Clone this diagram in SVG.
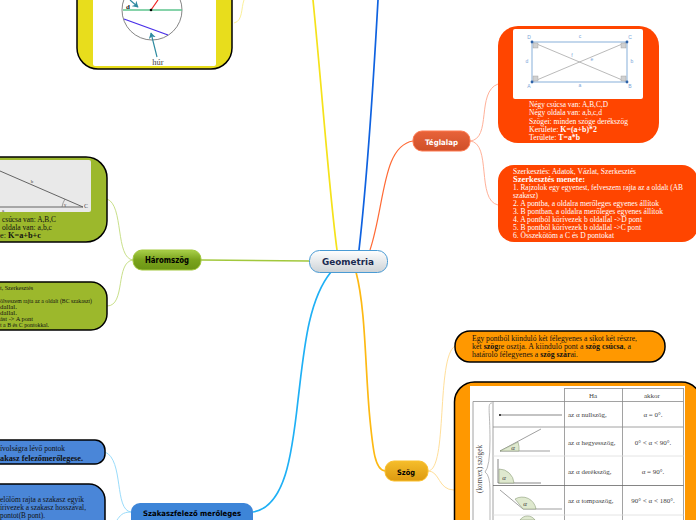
<svg xmlns="http://www.w3.org/2000/svg" width="696" height="520" viewBox="0 0 696 520">
<style>
.s{font-family:"Liberation Serif","Times New Roman",serif;font-size:8.600px;fill:#111}
.w{fill:#fff}
.xs{font-size:6px}
.b{font-weight:bold}
.n{font-family:"DejaVu Sans",Verdana,sans-serif;font-weight:bold;font-size:9px}
.c{stroke:#000;stroke-width:1.5}
.t{font-family:"Liberation Serif",serif;font-size:7px;fill:#444;text-anchor:middle}
.gl{stroke:#8a8a8a;stroke-width:.8;fill:none}
.lb{font-family:"Liberation Sans",sans-serif;font-size:5px;fill:#7aa5d8;text-anchor:middle}
.ang{fill:#dfe9cf;stroke:#7c8f6a;stroke-width:.5}
path.l{fill:none}
</style>
<defs>
<linearGradient id="gc" x1="0" y1="0" x2="0" y2="1"><stop offset="0" stop-color="#fff"/><stop offset="1" stop-color="#cdd2d6"/></linearGradient>
<linearGradient id="gg" x1="0" y1="0" x2="0" y2="1"><stop offset="0" stop-color="#a9d04a"/><stop offset=".5" stop-color="#7aa31c"/><stop offset="1" stop-color="#6b9414"/></linearGradient>
<linearGradient id="gt" x1="0" y1="0" x2="0" y2="1"><stop offset="0" stop-color="#e8633a"/><stop offset="1" stop-color="#cf4f28"/></linearGradient>
<linearGradient id="gs" x1="0" y1="0" x2="0" y2="1"><stop offset="0" stop-color="#f5bd2b"/><stop offset="1" stop-color="#dd9a10"/></linearGradient>
<marker id="ah" markerWidth="6" markerHeight="6" refX="4.500" refY="3" orient="auto"><path d="M0 0L5 3L0 6L1.500 3Z" fill="#2e8aa0"/></marker>
</defs>

<g id="connectors">
<path class="l" stroke="#f5e21a" stroke-width="1.7" d="M337 250C329 190 322 90 313 0"/>
<path class="l" stroke="#0f62e0" stroke-width="1.7" d="M359 250C368 170 373 90 378 0"/>
<path class="l" stroke="#ff6a35" stroke-width="1.2" d="M370 250C385 205 382 146 413 141"/>
<path class="l" stroke="#1fb0f5" stroke-width="1.700" d="M331 272C308 300 304 350 298 400C292 455 285 507 253 512"/>
<path class="l" stroke="#fdb913" stroke-width="1.700" d="M356 272C366 310 365 370 370 420C373 450 375 470 385 471"/>
<path class="l" stroke="#a2c83c" stroke-width="1.5" d="M201 260L309 261"/>
<path class="l" stroke="#ffdf9a" d="M428 471C448 470 436 358 455 346"/>
<path class="l" stroke="#ffdf9a" d="M428 471C440 471 438 490 454 490"/>
<path class="l" stroke="#c9e08a" d="M133 260C115 258 124 205 107 199"/>
<path class="l" stroke="#c9e08a" d="M133 260C115 262 126 306 107 306"/>
<path class="l" stroke="#ffb199" d="M470 141C492 139 476 92 498 84"/>
<path class="l" stroke="#ffb199" d="M470 141C492 143 476 200 498 205"/>
<path class="l" stroke="#9adcfb" d="M131 512C114 510 124 460 105 452"/>
<path class="l" stroke="#9adcfb" d="M131 512C122 512 120 516 117 520"/>
<path class="l" stroke="#fbf09a" d="M234 23C243 21 241 8 244 0"/>
</g>

<g id="node-kor">
<rect class="c" x="77" y="-60" width="155" height="129" rx="21" fill="#e8dd1c"/>
<rect x="93" y="-20" width="123" height="86" rx="2" fill="#fff"/>
<circle cx="152" cy="10" r="30" fill="none" stroke="#666" stroke-width=".8"/>
<path d="M123 10H182" stroke="#5ec48e" stroke-width="1.6"/>
<path d="M124 19L168 35" stroke="#4a30e8" stroke-width="1.3"/>
<path d="M151 10L158 0" stroke="#ee2222" stroke-width="1.2"/>
<circle cx="151" cy="10" r="1.3" fill="#000"/>
<path d="M130 0L138 7" stroke="#2e8aa0" stroke-width="1.2" marker-end="url(#ah)"/>
<path d="M157 57L151 33" stroke="#2e8aa0" stroke-width="1.2" marker-end="url(#ah)"/>
<text class="s b" x="126" y="9" style="font-size:7px">d</text>
<text class="t" x="158" y="65" style="font-size:8.500px">húr</text>
</g>

<g id="node-haromszog-kep">
<rect class="c" x="-40" y="157" width="147" height="85" rx="21" fill="#9cb82c"/>
<rect x="-10" y="160" width="101" height="52" rx="2" fill="#e9e9e9"/>
<path d="M0 171L83 207" stroke="#555" stroke-width=".9" fill="none"/>
<path d="M0 207H83" stroke="#555" stroke-width=".9"/>
<path d="M62 207A21 21 0 0 1 65 199" fill="none" stroke="#666" stroke-width=".6"/>
<text class="t" x="32" y="183" style="font-size:5px">b</text>
<text class="t" x="65" y="206" style="font-size:5px">γ</text>
<text class="t" x="86" y="208" style="font-size:6px">C</text>
<text class="t" x="3" y="212" style="font-size:5px">a</text>
<text class="s" x="2" y="222" textLength="54" lengthAdjust="spacingAndGlyphs">csúcsa van: A,B,C</text>
<text class="s" x="2" y="230" textLength="50" lengthAdjust="spacingAndGlyphs">oldala van: a,b,c</text>
<text class="s" x="0" y="238" textLength="41" lengthAdjust="spacingAndGlyphs">e: <tspan class="b">K=a+b+c</tspan></text>
</g>

<g id="node-haromszog-szerk">
<rect class="c" x="-40" y="282" width="147" height="48" rx="16" fill="#9cb82c"/>
<text class="s xs" x="0" y="290" textLength="33" lengthAdjust="spacingAndGlyphs">t, Szerkesztés</text>
<text class="s xs" x="0" y="302.500" textLength="92" lengthAdjust="spacingAndGlyphs">ölveszem rajta az a oldalt (BC szakaszt)</text>
<text class="s xs" x="0" y="308.500" textLength="17" lengthAdjust="spacingAndGlyphs">dallal.</text>
<text class="s xs" x="0" y="314.500" textLength="17" lengthAdjust="spacingAndGlyphs">dallal.</text>
<text class="s xs" x="0" y="320.500" textLength="33" lengthAdjust="spacingAndGlyphs">ást -&gt; A pont</text>
<text class="s xs" x="0" y="326.500" textLength="49" lengthAdjust="spacingAndGlyphs">t a B és C pontokkal.</text>
</g>

<g id="node-haromszog"><rect x="133" y="250" width="68" height="20" rx="9" fill="url(#gg)" stroke="#a2c83c"/><text class="n" x="145" y="263" textLength="44" lengthAdjust="spacingAndGlyphs">Háromszög</text></g>

<g id="node-felezo1">
<rect class="c" x="-40" y="440" width="145" height="24" rx="10" fill="#4a86d8"/>
<text class="s" x="0" y="451" textLength="65" lengthAdjust="spacingAndGlyphs">ívolságra lévő pontok</text>
<text class="s b" x="0" y="460.500" textLength="83" lengthAdjust="spacingAndGlyphs">akasz felezőmerőlegese.</text>
</g>

<g id="node-felezo2">
<rect class="c" x="-40" y="484" width="145" height="70" rx="16" fill="#4a86d8"/>
<text class="s" x="0" y="502" textLength="84" lengthAdjust="spacingAndGlyphs">elölöm rajta a szakasz egyik</text>
<text class="s" x="0" y="510" textLength="86" lengthAdjust="spacingAndGlyphs">írivezek a szakasz hosszával,</text>
<text class="s" x="0" y="518" textLength="45" lengthAdjust="spacingAndGlyphs">pontot(B pont).</text>
</g>

<g id="node-felezo"><rect x="131" y="503" width="122" height="30" rx="9" fill="#3d85d8"/><text class="n" x="143" y="516" textLength="98" lengthAdjust="spacingAndGlyphs" style="font-size:7.500px">Szakaszfelező merőleges</text></g>

<g id="node-center"><rect x="309.500" y="250.500" width="78" height="22" rx="10" fill="url(#gc)" stroke="#4a9bd4"/><text class="n" x="322" y="265" fill="#1a2a50" textLength="52" lengthAdjust="spacingAndGlyphs" style="font-size:9.500px">Geometria</text></g>

<g id="node-teglalap"><rect x="413" y="131" width="57" height="20" rx="9" fill="url(#gt)" stroke="#ff7a50"/><text class="n" x="425" y="144.500" fill="#fff" textLength="33" lengthAdjust="spacingAndGlyphs" style="font-size:7.500px">Téglalap</text></g>

<g id="node-teglalap-kep">
<rect x="498" y="26" width="161" height="117" rx="20" fill="#ff4500"/>
<rect x="513" y="29" width="130" height="70" rx="2" fill="#fff"/>
<path d="M532 42L627 82M532 82L627 42" stroke="#a8a8a8" stroke-width=".8"/>
<rect x="532" y="42" width="95" height="40" fill="none" stroke="#a4c2e2" stroke-width="1.3"/>
<g fill="#d0d0d0" stroke="#999" stroke-width=".4"><rect x="533" y="43" width="5" height="5"/><rect x="621" y="43" width="5" height="5"/><rect x="533" y="76" width="5" height="5"/><rect x="621" y="76" width="5" height="5"/></g>
<g fill="#2d62a8"><circle cx="532" cy="42" r="1.400"/><circle cx="627" cy="42" r="1.400"/><circle cx="532" cy="82" r="1.400"/><circle cx="627" cy="82" r="1.400"/></g>
<text class="lb" x="529" y="39">D</text><text class="lb" x="630" y="39">C</text><text class="lb" x="529" y="88">A</text><text class="lb" x="630" y="88">B</text>
<text class="lb" x="580" y="38">c</text><text class="lb" x="580" y="87">a</text><text class="lb" x="527" y="63">d</text><text class="lb" x="632" y="63">b</text>
<text class="lb" x="572" y="57" fill="#777">f</text><text class="lb" x="592" y="61" fill="#777">e</text>
<text class="s w" x="529" y="107" textLength="79" lengthAdjust="spacingAndGlyphs">Négy csúcsa van: A,B,C,D</text>
<text class="s w" x="529" y="115" textLength="73" lengthAdjust="spacingAndGlyphs">Négy oldala van: a,b,c,d</text>
<text class="s w" x="529" y="124" textLength="99" lengthAdjust="spacingAndGlyphs">Szögei: minden szöge derékszög</text>
<text class="s w" x="529" y="132" textLength="68" lengthAdjust="spacingAndGlyphs">Kerülete: <tspan class="b">K=(a+b)*2</tspan></text>
<text class="s w" x="529" y="140" textLength="51" lengthAdjust="spacingAndGlyphs">Területe: <tspan class="b">T=a*b</tspan></text>
</g>

<g id="node-teglalap-szerk">
<rect x="498" y="165" width="200" height="77" rx="16" fill="#ff4500"/>
<text class="s w" x="513" y="174" textLength="123" lengthAdjust="spacingAndGlyphs">Szerkesztés: Adatok, Vázlat, Szerkesztés</text>
<text class="s w b" x="513" y="182" textLength="72" lengthAdjust="spacingAndGlyphs">Szerkesztés menete:</text>
<text class="s w" x="513" y="190" textLength="170" lengthAdjust="spacingAndGlyphs">1. Rajzolok egy egyenest, felveszem rajta az a oldalt (AB</text>
<text class="s w" x="513" y="198" textLength="25" lengthAdjust="spacingAndGlyphs">szakasz)</text>
<text class="s w" x="513" y="206" textLength="146" lengthAdjust="spacingAndGlyphs">2. A pontba, a oldalra merőleges egyenes állítok</text>
<text class="s w" x="513" y="214" textLength="150" lengthAdjust="spacingAndGlyphs">3. B pontban, a oldalra merőleges egyenes állítok</text>
<text class="s w" x="513" y="222" textLength="129" lengthAdjust="spacingAndGlyphs">4. A pontból körívezek b oldallal -&gt;D pont</text>
<text class="s w" x="513" y="230" textLength="128" lengthAdjust="spacingAndGlyphs">5. B pontból körívezek b oldallal -&gt;C pont</text>
<text class="s w" x="513" y="238" textLength="101" lengthAdjust="spacingAndGlyphs">6. Összekötöm a C és D pontokat</text>
</g>

<g id="node-szog"><rect x="385" y="461" width="43" height="20" rx="9" fill="url(#gs)" stroke="#fbc02d"/><text class="n" x="397" y="474.500" textLength="18" lengthAdjust="spacingAndGlyphs" style="font-size:7.500px">Szög</text></g>

<g id="node-szog-def">
<rect class="c" x="455" y="331" width="210" height="31" rx="15" fill="#ff9800"/>
<text class="s" x="472" y="341" textLength="165" lengthAdjust="spacingAndGlyphs">Egy pontból kiinduló két félegyenes a síkot két részre,</text>
<text class="s" x="472" y="349" textLength="159" lengthAdjust="spacingAndGlyphs">két <tspan class="b">szög</tspan>re osztja. A kiinduló pont a <tspan class="b">szög csúcsa</tspan>, a</text>
<text class="s" x="472" y="357" textLength="106" lengthAdjust="spacingAndGlyphs">határoló félegyenes a <tspan class="b">szög szár</tspan>ai.</text>
</g>

<g id="node-szog-tabla">
<rect class="c" x="454.500" y="382" width="247" height="170" rx="20" fill="#ff9800"/>
<rect x="470" y="386" width="215" height="134" fill="#fff"/>
<g class="gl">
<path d="M564.500 388V520M622.500 388V520M683.500 388V520M564.500 388.500H683.500"/>
<path d="M473 401.500H683.500M473 401.500V520M493 401.500V520"/>
<path d="M493 427H683.500"/>
<path d="M493 456H683.500" stroke="#ddd"/>
<path d="M493 485.500H683.500" stroke="#666"/>
<path d="M493 515H683.500" stroke="#ddd"/>
</g>
<path d="M492 403C487 403 490 410 490 440Q490 467 485 472Q490 475 490 490V520" fill="none" stroke="#999" stroke-width=".7"/>
<text class="t" x="0" y="0" transform="translate(482,493) rotate(-90)" style="font-size:7.500px;text-anchor:start" textLength="48" lengthAdjust="spacingAndGlyphs">(konvex) szögek</text>
<text class="t" x="593" y="398">Ha</text><text class="t" x="652" y="398">akkor</text>
<circle cx="500" cy="415" r="1" fill="#000"/><path d="M500 415H562" stroke="#555" stroke-width=".7"/>
<path d="M500 451L541 429M500 451H550" stroke="#777" stroke-width=".7" fill="none"/>
<path d="M500 451L518 442A20 20 0 0 1 519 451Z" class="ang"/>
<path d="M498 459V483H541" stroke="#555" stroke-width=".7" fill="none"/>
<path d="M499 483V469A15 15 0 0 1 514 483Z" class="ang"/>
<path d="M500 490L523 509H562" stroke="#777" stroke-width=".7" fill="none"/>
<path d="M523 509L515 499A14 14 0 0 1 536 509Z" class="ang"/>
<path d="M520 520A9 9 0 0 1 535 520Z" class="ang"/>
<text class="t" x="513" y="450" font-style="italic">α</text><text class="t" x="504" y="480" font-style="italic">α</text><text class="t" x="525" y="506" font-style="italic">α</text>
<text class="t" x="568" y="417" style="text-anchor:start">az α nullszög,</text>
<text class="t" x="568" y="445" style="text-anchor:start">az α hegyesszög,</text>
<text class="t" x="568" y="474" style="text-anchor:start">az α derékszög,</text>
<text class="t" x="568" y="503" style="text-anchor:start">az α tompaszög,</text>
<text class="t" x="653" y="417">α = 0°.</text>
<text class="t" x="653" y="445">0° &lt; α &lt; 90°.</text>
<text class="t" x="653" y="474">α = 90°.</text>
<text class="t" x="653" y="503">90° &lt; α &lt; 180°.</text>
</g>
</svg>
